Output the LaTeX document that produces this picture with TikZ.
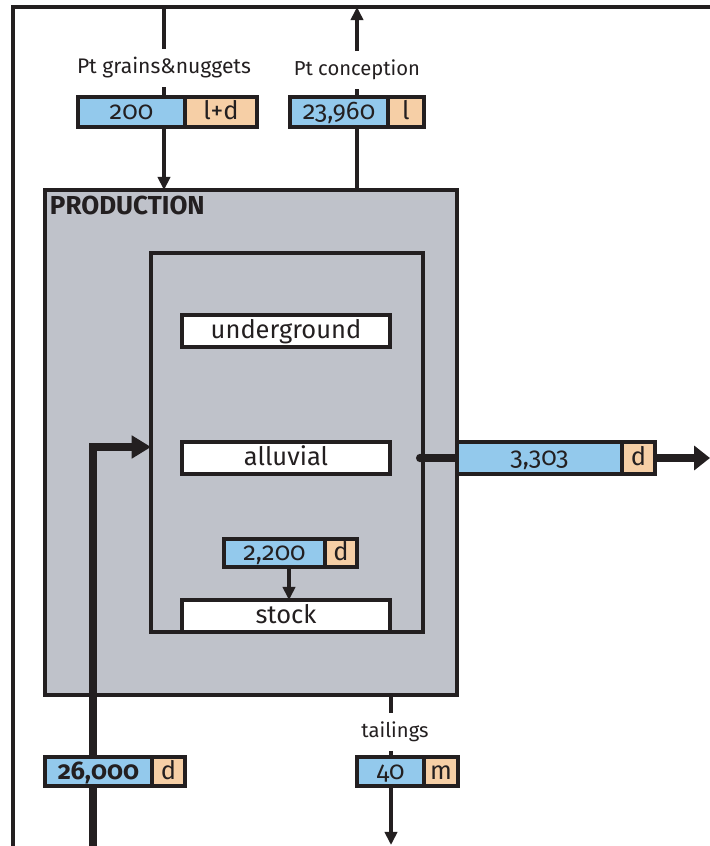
\documentclass[tikz,border=0pt]{standalone}
\usepackage{fontspec}
\setmainfont{Fira Sans}[Numbers=OldStyle]
\usetikzlibrary{arrows.meta}

\definecolor{flowblue}{HTML}{93C9EC}
\definecolor{unitpeach}{HTML}{F6CFA6}
\definecolor{prodgray}{HTML}{BFC2CA}
\definecolor{ink}{HTML}{231F20}

\begin{document}
\begin{tikzpicture}[x=0.02cm, y=-0.02cm,
        every node/.style={text=ink, inner sep=0pt, outer sep=0pt},
        line/.style={draw=ink, line width=2pt},
        flow/.style={draw=ink, line width=4pt},
        tip/.style={-{Triangle[width=7pt,length=7.5pt]}},
        bigtip/.style={-{Triangle[width=13.5pt,length=9pt]}},
        val/.style={draw=ink, line width=1.9pt, fill=flowblue, minimum height=0.6cm,
            text height=9pt, text depth=0pt, font=\fontsize{14.5}{15}\selectfont},
        unit/.style={val, fill=unitpeach},
        proc/.style={draw=ink, line width=2.6pt, fill=white, minimum width=4.16cm,
            minimum height=0.64cm, text height=9pt, text depth=0pt,
            font=\fontsize{14.5}{15}\selectfont},
        lbl/.style={font=\fontsize{11.5}{12}\selectfont, inner sep=5pt}
    ]
    \useasboundingbox (0,0) rectangle (710,846);

    % frame
    \coordinate (ftop) at (13,7);
    \draw[line] (710,7) -- (ftop) -- (13,846);

    % production block
    \node[draw=ink, line width=2.6pt, fill=prodgray, minimum width=8.24cm,
        minimum height=10.1cm] (prod) at (251,442.5) {};
    \node[anchor=north west, font=\bfseries\fontsize{14.8}{15}\selectfont] (prodlbl)
        at (50,196) {PRODUCTION};
    \node[draw=ink, line width=2.6pt, minimum width=5.44cm, minimum height=7.58cm]
        (mine) at (287,442.5) {};

    \node[proc] (underground) at (286,331) {underground};
    \node[proc] (alluvial) at (286,458) {alluvial};
    \node[proc] (stock) at (286,616) {stock};

    % inflow of ore
    \coordinate (inB) at (93,846);
    \coordinate (inC) at (93,447);
    \draw[flow, -{Triangle[width=12.5pt,length=11pt]}] (inB) -- (inC) -- (inC -| mine.west);

    % grains and nuggets
    \node[lbl, font=\fontsize{12}{12}\selectfont] (lgrain) at (164,68) {Pt grains\&nuggets};
    \node[val, minimum width=2.14cm, anchor=north west] (v200) at (78,97) {200};
    \node[unit, minimum width=1.44cm, anchor=west] (u200) at (v200.east) {l+d};
    \draw[line] (lgrain |- ftop) -- (lgrain.north);
    \draw[line] (lgrain.south) -- (lgrain.south |- v200.north);
    \draw[line, tip] (lgrain |- v200.south) -- (lgrain |- prod.north);

    % conception
    \node[lbl] (lconc) at (357,70) {Pt conception};
    \node[val, minimum width=1.96cm, anchor=north west] (v23960) at (290,97) {23,960};
    \node[unit, minimum width=0.72cm, anchor=west] (u23960) at (v23960.east) {l};
    \draw[line] (lconc |- prod.north) -- (lconc |- v23960.south);
    \draw[line] (lconc |- v23960.north) -- (lconc.south);
    \draw[line, tip] (lconc.north) -- (lconc |- ftop);

    % stock input
    \node[val, minimum width=2.02cm, minimum height=0.56cm, anchor=north west] (v2200)
        at (224,539) {2,200};
    \node[unit, minimum width=0.64cm, minimum height=0.56cm, anchor=west] (u2200)
        at (v2200.east) {d};
    \draw[line, tip] (v2200.south -| 289,0) -- (stock.north -| 289,0);

    % alluvial output
    \coordinate (dot) at ([xshift=-1.6pt]mine.east |- alluvial);
    \coordinate (outR) at (710,458);
    \node[val, minimum width=3.3cm, minimum height=0.64cm, anchor=west] (v3303)
        at (457,458) {3,303};
    \node[unit, minimum width=0.66cm, minimum height=0.64cm, anchor=west] (u3303)
        at (v3303.east) {d};
    \fill[ink] (dot) circle (2.4pt);
    \draw[flow] (dot) -- (v3303.west);
    \draw[flow, bigtip] (u3303.east) -- (outR);

    % ore amount
    \node[val, minimum width=2.14cm, minimum height=0.58cm, anchor=north west,
        font=\bfseries\fontsize{14.5}{15}\selectfont] (v26000) at (45,757) {26,000};
    \node[unit, minimum width=0.66cm, minimum height=0.58cm, anchor=west] (u26000)
        at (v26000.east) {d};

    % tailings
    \coordinate (outT) at (391,845);
    \node[lbl] (ltail) at (395,732) {tailings};
    \node[val, minimum width=1.34cm, minimum height=0.58cm, anchor=north west] (v40)
        at (357,757) {40};
    \node[unit, minimum width=0.68cm, minimum height=0.58cm, anchor=west] (u40)
        at (v40.east) {m};
    \draw[line] (outT |- prod.south) -- (outT |- ltail.north);
    \draw[line] (outT |- ltail.south) -- (outT |- v40.north);
    \draw[line, tip] (outT |- v40.south) -- (outT);
\end{tikzpicture}
\end{document}
